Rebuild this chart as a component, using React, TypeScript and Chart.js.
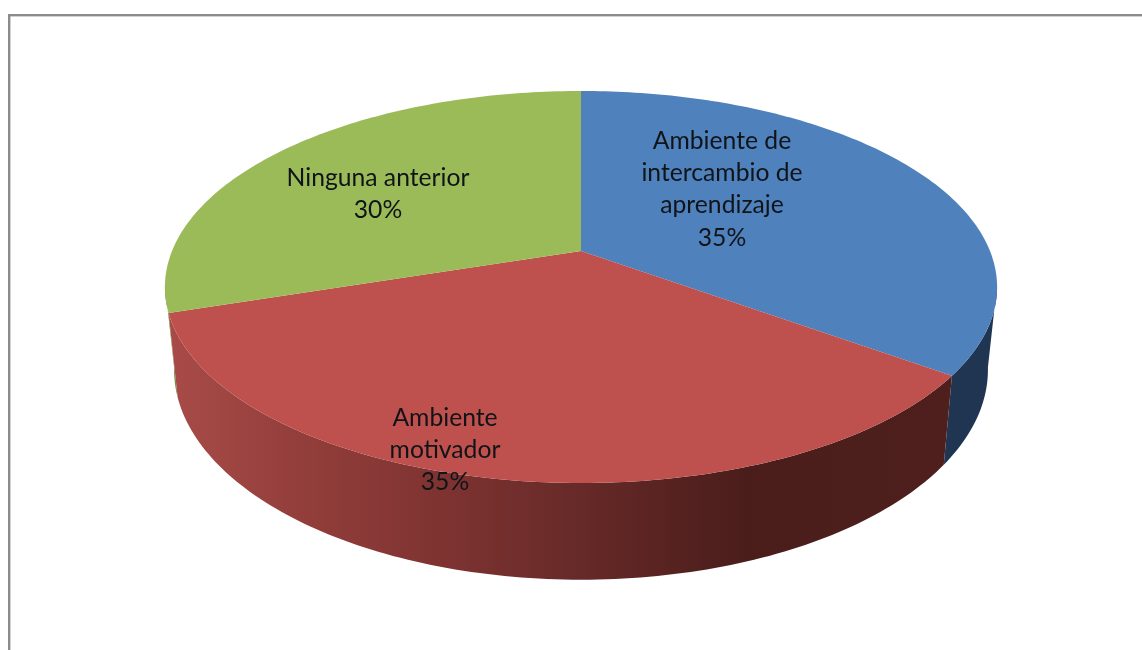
import React, { useEffect, useRef } from "react";
import { Chart, PieController, registerables } from "chart.js";

const categories = ["Ambiente de intercambio de aprendizaje", "Ambiente motivador", "Ninguna anterior"];
const values = [35, 35, 30];
const labelLines = [["Ambiente de", "intercambio de", "aprendizaje"], ["Ambiente", "motivador"], ["Ninguna anterior"]];
const sliceColors = ["#4F81BD", "#BE504D", "#9BBB59"];

const FONT = '24.7px Lato, "Open Sans", sans-serif';
const LINE_H = 32.2;
const labelAnchors = [{ x: 722, y: 141 }, { x: 445, y: 418 }, { x: 378, y: 178 }];
const CX = 581;
const K = 0.1837;
const TOP = { a: 409, b: 189.4, y0: 251 };
const BOTTOM = { a: 400, b: 203, y0: 331 };
// Only the front of the rim is visible; these are the silhouette turning points.
const RIM_START = (100 * Math.PI) / 180;
const RIM_END = (260 * Math.PI) / 180;

const project = (t: number, d: { a: number; b: number; y0: number }) => {
  const u = Math.sin(t);
  const v = -Math.cos(t);
  const w = 1 - K * v;
  return { x: CX + (d.a * u) / w, y: d.y0 + (d.b * v) / w };
};

class Pie3DController extends PieController {
  static id = "pie3d";
  static defaults = PieController.defaults;
  static overrides = PieController.overrides;
  draw() {
    const ctx = this.chart.ctx;
    const arcs: any[] = this.getMeta().data as any[];
    const spans = arcs.map((e) => ({
      s: e.startAngle + Math.PI / 2,
      e: e.endAngle + Math.PI / 2,
    }));
    const samples = (s: number, e: number) => {
      const n = Math.max(2, Math.ceil(((e - s) * 180) / Math.PI));
      return Array.from({ length: n + 1 }, (_, i) => s + ((e - s) * i) / n);
    };
    const redGrad = ctx.createLinearGradient(170, 0, 950, 0);
    redGrad.addColorStop(0, "#A84B48");
    redGrad.addColorStop(0.15, "#953F3C");
    redGrad.addColorStop(0.35, "#7E3331");
    redGrad.addColorStop(0.52, "#672A28");
    redGrad.addColorStop(0.74, "#4A1D1B");
    redGrad.addColorStop(1, "#4E1F1D");
    const wallFill = ["#1F3552", redGrad, "#6F8A3E"];
    // back walls first, front wall last
    [2, 0, 1].forEach((i) => {
      const s = Math.max(spans[i].s, RIM_START);
      const e = Math.min(spans[i].e, RIM_END);
      if (e <= s) return;
      const ts = samples(s, e);
      ctx.beginPath();
      ts.forEach((t, j) => {
        const p = project(t, TOP);
        if (j === 0) ctx.moveTo(p.x, p.y);
        else ctx.lineTo(p.x, p.y);
      });
      ts.slice().reverse().forEach((t) => {
        const p = project(t, BOTTOM);
        ctx.lineTo(p.x, p.y);
      });
      ctx.closePath();
      ctx.fillStyle = wallFill[i] as any;
      ctx.fill();
    });
    // top faces
    arcs.forEach((_, i) => {
      const { s, e } = spans[i];
      ctx.beginPath();
      ctx.moveTo(CX, TOP.y0);
      samples(s, e).forEach((t) => {
        const p = project(t, TOP);
        ctx.lineTo(p.x, p.y);
      });
      ctx.closePath();
      ctx.fillStyle = sliceColors[i];
      ctx.fill();
    });
    // labels
    const total = values.reduce((a, b) => a + b, 0);
    ctx.fillStyle = "#101418";
    ctx.font = FONT;
    ctx.textAlign = "center";
    ctx.textBaseline = "middle";
    labelLines.forEach((lines, i) => {
      const all = [...lines, `${Math.round((values[i] / total) * 100)}%`];
      all.forEach((line, j) => {
        ctx.fillText(line, labelAnchors[i].x, labelAnchors[i].y + j * LINE_H);
      });
    });
  }
}

Chart.register(...registerables, Pie3DController);

const framePlugin = {
  id: "frame",
  beforeDatasetsDraw(chart: any) {
    const c = chart.ctx;
    c.save();
    c.fillStyle = "#FFFFFF";
    c.fillRect(0, 0, chart.width, chart.height);
    c.fillStyle = "#8C8C8C";
    c.fillRect(8, 14, chart.width - 8, 2.4);
    c.fillRect(8, 14, 2.4, chart.height - 14);
    c.restore();
  },
};

export default function App() {
  const ref = useRef<HTMLCanvasElement>(null);
  useEffect(() => {
    const chart = new Chart(ref.current!, {
      type: "pie3d" as any,
      data: { labels: categories, datasets: [{ data: values, backgroundColor: sliceColors, borderWidth: 0 }] },
      options: {
        animation: false,
        responsive: false,
        plugins: { legend: { display: false }, tooltip: { enabled: false } },
      },
      plugins: [framePlugin],
    });
    return () => chart.destroy();
  }, []);
  return (
    <canvas
      ref={ref}
      width={1142}
      height={650}
      style={{ position: "absolute", left: 0, top: 0, width: 1142, height: 650, filter: "blur(0.6px)" }}
    />
  );
}
